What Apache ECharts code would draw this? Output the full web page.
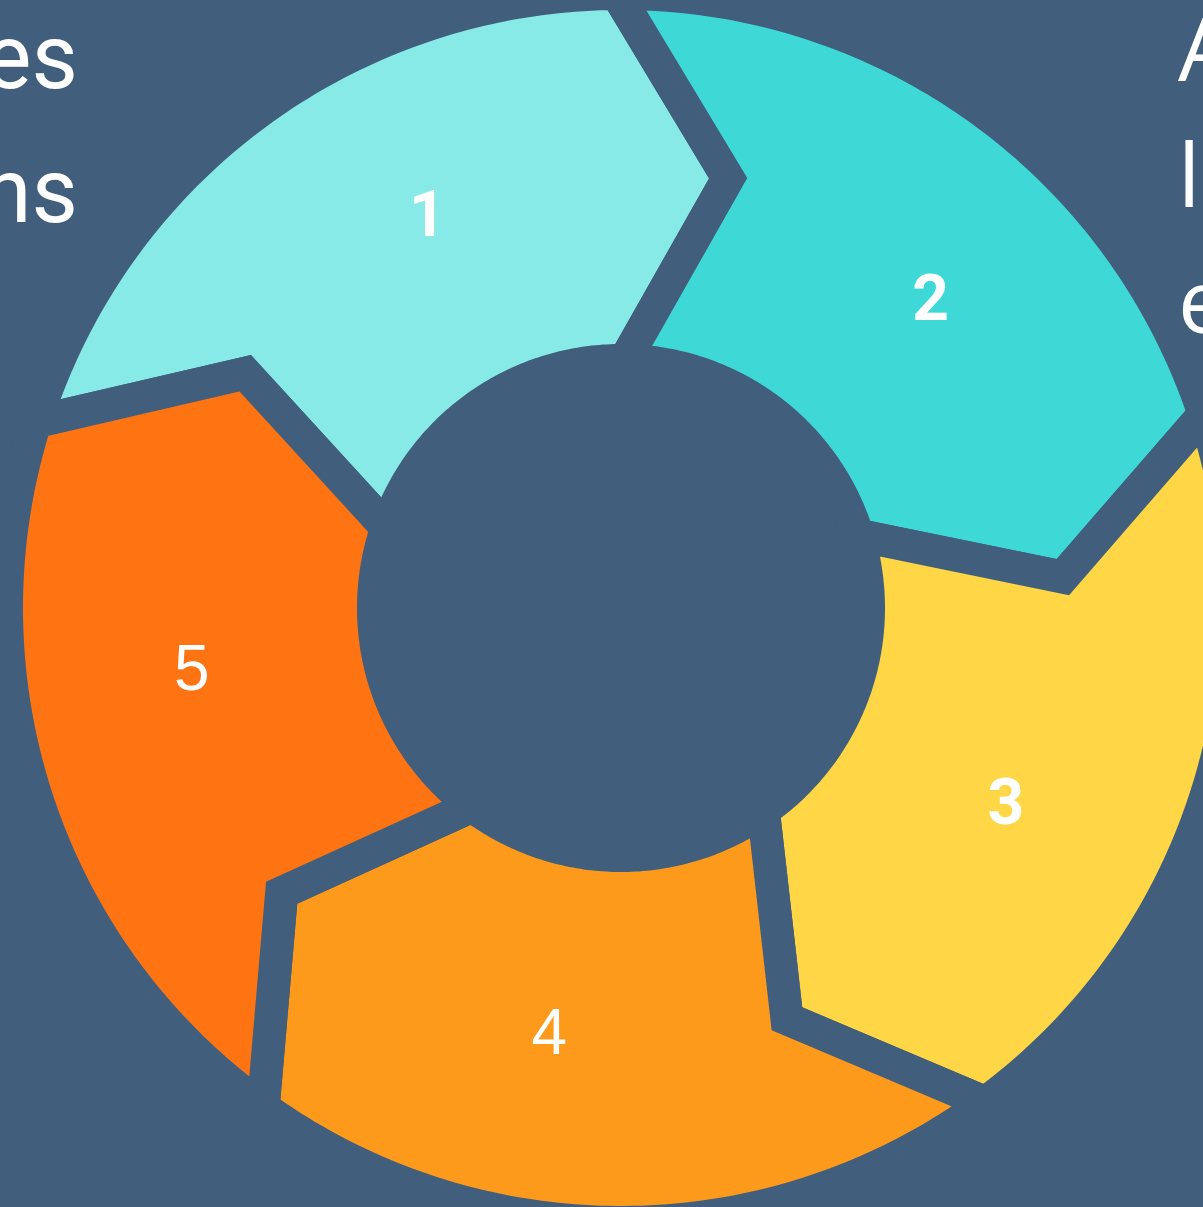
<!DOCTYPE html>
<html><head><meta charset="utf-8">
<script src="https://cdn.jsdelivr.net/npm/echarts@6/dist/echarts.min.js"></script>
<style>html,body{margin:0;padding:0;background:#415e7c;overflow:hidden}#c{width:1203px;height:1207px;}</style>
</head><body><div id="c"></div>
<script>
// ---- data ----
const stepLabels = ['1', '2', '3', '4', '5'];
const stepShares = [72, 72, 72, 72, 72];          // degrees of the ring per step
const leftTextLines = ['es', 'ns'];
const rightTextLines = ['A', 'l', 'e'];

// ---- styles ----
const BG = '#415e7c';
const stepColors = ['#87eae6', '#3ed9d6', '#fed646', '#fe9a1b', '#fe7413'];
const labelWeights = ['bold', 'bold', 'bold', 'normal', 'normal'];
const labelFonts = ['Roboto', 'Roboto', 'Roboto', 'Liberation Sans', 'Liberation Sans'];

// ---- geometry ----
const START_ANGLE = 289;
const R_OUT = 598, R_IN = 264, R_TIP = 443, GAP = 33, TIP_SHIFT = 13, INNER_SHIFT = 1;
const LABEL_R = 434, LABEL_SHIFT = 8.5;

let acc = START_ANGLE;
const ringData = stepShares.map((v, i) => { const s = acc; acc += v; return [s, s + v, i]; });

function renderItem(params, api) {
  const s = api.value(0), e = api.value(1), idx = api.value(2);
  const pt = (r, a) => api.coord([r, ((a % 360) + 360) % 360]);
  const ro = R_OUT + GAP / 2, ri = R_IN - GAP / 2;
  const oShift = -TIP_SHIFT * (GAP / 2) / (R_OUT - R_TIP);
  const iShift = INNER_SHIFT - (TIP_SHIFT - INNER_SHIFT) * (GAP / 2) / (R_TIP - R_IN);
  const N = 90;
  const pts = [];
  pts.push(pt(ro, s + oShift), pt(R_TIP, s + TIP_SHIFT), pt(ri, s + iShift));
  for (let k = 1; k < N; k++) pts.push(pt(ri, s + iShift + (e - s) * k / N));
  pts.push(pt(ri, e + iShift), pt(R_TIP, e + TIP_SHIFT), pt(ro, e + oShift));
  for (let k = N - 1; k > 0; k--) pts.push(pt(ro, s + oShift + (e - s) * k / N));
  const lp = pt(LABEL_R, (s + e) / 2 + LABEL_SHIFT);
  return {
    type: 'group',
    children: [
      { type: 'polygon', shape: { points: pts },
        style: { fill: stepColors[idx], stroke: BG, lineWidth: GAP, lineJoin: 'miter' } },
      { type: 'text', z2: 100, x: lp[0], y: lp[1],
        style: { text: stepLabels[idx], fill: '#ffffff', fontSize: 64,
                 fontWeight: labelWeights[idx], fontFamily: labelFonts[idx],
                 align: 'center', verticalAlign: 'middle' } }
    ]
  };
}

const graphics = [];
leftTextLines.forEach((t, i) => graphics.push({
  type: 'text', right: 1203 - 78, top: 20 + i * 134,
  style: { text: t, fill: '#ffffff', fontSize: 90, fontFamily: 'Roboto', fontWeight: 'normal' }
}));
rightTextLines.forEach((t, i) => graphics.push({
  type: 'text', left: 1178, top: 12 + i * 126,
  style: { text: t, fill: '#ffffff', fontSize: 88, fontFamily: 'Open Sans', fontWeight: 'normal' }
}));

const chart = echarts.init(document.getElementById('c'), null, { renderer: 'canvas' });
chart.setOption({
  backgroundColor: BG,
  animation: false,
  polar: { center: [621, 608], radius: [0, 615] },
  angleAxis: { type: 'value', min: 0, max: 360, startAngle: 90, clockwise: true, show: false },
  radiusAxis: { type: 'value', min: 0, max: 615, show: false },
  graphic: graphics,
  series: [{
    type: 'custom', coordinateSystem: 'polar', renderItem: renderItem,
    data: ringData, clip: false, silent: true
  }]
});
</script></body></html>
